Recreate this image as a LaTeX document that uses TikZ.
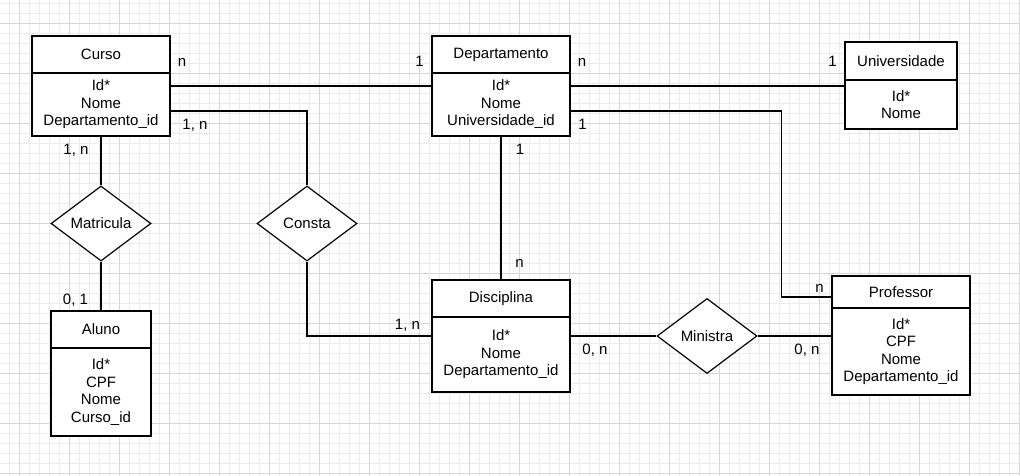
\documentclass[tikz,border=0pt]{standalone}
\usepackage{fontspec}
\setmainfont{Liberation Sans}
\usetikzlibrary{shapes.geometric}
\definecolor{gridminor}{RGB}{236,236,236}
\definecolor{gridmajor}{RGB}{214,214,214}

\tikzset{
  entity/.style={draw,line width=1.2pt,fill=white,inner sep=0pt,minimum width=138pt},
  attrs/.style={entity,align=center},
  relation/.style={draw,diamond,line width=1.2pt,fill=white,inner sep=0pt,
    minimum width=100pt,minimum height=75pt,aspect=1.33},
  card/.style={anchor=base,inner sep=0pt},
  link/.style={line width=1.2pt}
}

\begin{document}
\begin{tikzpicture}[x=1pt,y=-1pt,font=\fontsize{15}{17.5}\selectfont]
\useasboundingbox (0,0) rectangle (1020,476);
\fill[white] (0,0) rectangle (1020,476);
 \foreach \x in {9,19,...,1019} \draw[gridminor] (\x,0) -- (\x,476);
 \foreach \y in {3,13,...,473} \draw[gridminor] (0,\y) -- (1020,\y);
 \foreach \x in {19,69,...,1019} \draw[gridmajor] (\x,0) -- (\x,476);
 \foreach \y in {23,73,...,473} \draw[gridmajor] (0,\y) -- (1020,\y);

 \node[entity,minimum height=37pt] (curso) at (101,54.5) {Curso};
 \node[attrs,minimum height=63pt] (cursoattr) at (101,104.5) {Id*\\Nome\\Departamento\_id};
 \node[entity,minimum height=37pt] (dep) at (501,54.5) {Departamento};
 \node[attrs,minimum height=63pt] (depattr) at (501,104.5) {Id*\\Nome\\Universidade\_id};
 \node[entity,minimum width=112pt,minimum height=38pt] (univ) at (901,61) {Universidade};
 \node[attrs,minimum width=112pt,minimum height=49pt] (univattr) at (901,104.5) {Id*\\Nome};
 \node[entity,minimum width=100pt,minimum height=37pt] (aluno) at (101,329.5) {Aluno};
 \node[attrs,minimum width=100pt,minimum height=88pt] (alunoattr) at (101,392) {Id*\\CPF\\Nome\\Curso\_id};
 \node[entity,minimum height=37pt] (disc) at (501,298.5) {Disciplina};
 \node[attrs,minimum height=75pt] (discattr) at (501,354.5) {Id*\\Nome\\Departamento\_id};
 \node[entity,minimum height=32pt] (prof) at (901,292) {Professor};
 \node[attrs,minimum height=87pt] (profattr) at (901,351.5) {Id*\\CPF\\Nome\\Departamento\_id};

 \node[relation] (matricula) at (101,223.5) {Matricula};
 \node[relation] (consta) at (307,223.5) {Consta};
 \node[relation] (ministra) at (707,336) {Ministra};

 \coordinate (profin) at ([yshift=-5pt]prof.west);
 \draw[link] ([yshift=18.5pt]cursoattr.east) -- ([yshift=18.5pt]depattr.west);
 \draw[link] ([yshift=-6.5pt]cursoattr.east) -| (consta.north);
 \draw[link] (consta.south) |- ([yshift=18.5pt]discattr.west);
 \draw[link] (cursoattr.south) -- (matricula.north);
 \draw[link] (matricula.south) -- (aluno.north);
 \draw[link] ([yshift=18.5pt]depattr.east) -- ([yshift=18.5pt]univattr.west);
 \draw[link] ([yshift=-6.5pt]depattr.east) -| ([xshift=-50pt]profin) -- (profin);
 \draw[link] (depattr.south) -- (disc.north);
 \draw[link] ([yshift=18.5pt]discattr.east) -- (ministra.west);
 \draw[link] (ministra.east) -- ([yshift=15.5pt]profattr.west);

 \node[card] (cCursoDep) at (182,67) {n};
 \node[card] (cCursoConsta) at (195,130) {1, n};
 \node[card] (cCursoMat) at (76,154) {1, n};
 \node[card] (cDepCurso) at (419.5,67) {1};
 \node[card] (cDepUniv) at (582,67) {n};
 \node[card] (cDepProf) at (582.5,129.5) {1};
 \node[card] (cDepDisc) at (520,154) {1};
 \node[card] (cUnivDep) at (832.5,67) {1};
 \node[card] (cAlunoMat) at (75.5,304) {0, 1};
 \node[card] (cDiscDep) at (519.5,267) {n};
 \node[card] (cDiscConsta) at (407.5,329) {1, n};
 \node[card] (cDiscMin) at (595,354) {0, n};
 \node[card] (cProfDep) at (819.5,292) {n};
 \node[card] (cProfMin) at (807,354) {0, n};
\end{tikzpicture}
\end{document}
